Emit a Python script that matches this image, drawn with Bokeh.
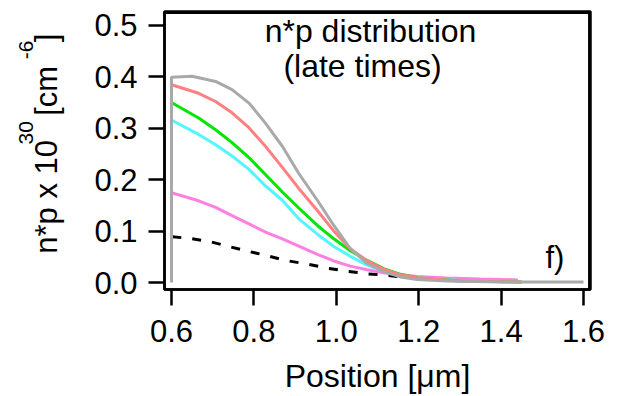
import math
from bokeh.plotting import figure
from bokeh.layouts import row
from bokeh.models import FixedTicker, PrintfTickFormatter, Range1d
from bokeh.core.properties import value
from bokeh.embed import file_html
from bokeh.resources import INLINE

# ---- data ----
gray_x = [0.600, 0.600, 0.650, 0.707, 0.747, 0.788, 0.828, 0.869, 0.909, 0.954, 0.994, 1.034, 1.075, 1.115, 1.156, 1.196, 1.269, 1.400, 1.600]
gray_y = [0.000, 0.399, 0.401, 0.391, 0.375, 0.349, 0.310, 0.265, 0.212, 0.160, 0.111, 0.066, 0.037, 0.021, 0.011, 0.006, 0.003, 0.001, 0.001]

red_x = [0.602, 0.666, 0.707, 0.747, 0.788, 0.828, 0.869, 0.909, 0.954, 0.994, 1.034, 1.075, 1.115, 1.156, 1.200, 1.300, 1.450]
red_y = [0.384, 0.368, 0.352, 0.330, 0.301, 0.265, 0.224, 0.183, 0.140, 0.100, 0.066, 0.042, 0.026, 0.015, 0.009, 0.003, 0.001]

green_x = [0.602, 0.666, 0.707, 0.747, 0.788, 0.828, 0.869, 0.909, 0.954, 0.994, 1.034, 1.075, 1.115, 1.156, 1.200, 1.300, 1.450]
green_y = [0.349, 0.320, 0.297, 0.272, 0.243, 0.210, 0.176, 0.145, 0.111, 0.085, 0.062, 0.043, 0.027, 0.016, 0.009, 0.003, 0.001]

cyan_x = [0.602, 0.666, 0.707, 0.747, 0.788, 0.828, 0.869, 0.909, 0.954, 0.994, 1.034, 1.075, 1.115, 1.156, 1.200, 1.300, 1.450]
cyan_y = [0.315, 0.288, 0.268, 0.246, 0.220, 0.188, 0.160, 0.124, 0.094, 0.070, 0.051, 0.034, 0.022, 0.014, 0.009, 0.004, 0.001]

magenta_x = [0.602, 0.666, 0.707, 0.747, 0.788, 0.828, 0.869, 0.909, 0.954, 0.994, 1.034, 1.075, 1.115, 1.156, 1.196, 1.269, 1.350, 1.440]
magenta_y = [0.174, 0.159, 0.146, 0.130, 0.114, 0.098, 0.085, 0.071, 0.055, 0.042, 0.032, 0.025, 0.019, 0.015, 0.012, 0.009, 0.007, 0.005]

dash_x = [0.602, 0.642, 0.691, 0.735, 0.780, 0.828, 0.877, 0.929, 0.978, 1.026, 1.075, 1.124, 1.172, 1.221, 1.300, 1.440]
dash_y = [0.089, 0.086, 0.080, 0.071, 0.062, 0.053, 0.043, 0.036, 0.028, 0.022, 0.017, 0.014, 0.010, 0.008, 0.006, 0.004]

x_ticks = [0.6, 0.8, 1.0, 1.2, 1.4, 1.6]
y_ticks = [0.0, 0.1, 0.2, 0.3, 0.4, 0.5]

title_lines = ["n*p distribution", "(late times)"]
panel_tag = "f)"
x_label = "Position [\u03bcm]"
y_label_parts = ["n*p x 10", "30", "[cm", "-6", "]"]

FONT = "Liberation Sans"
W, H = 621, 396
LW = 70  # width of the side strip carrying the rotated y label
TOP, BOT = 11, 291  # frame top / bottom in page pixels
PX_X, PX_Y = 412.0, 518.0  # pixels per data unit

# ---- main figure ----
X0, X1 = 0.583, 1.617
Y0, Y1 = -0.0135, 0.527
p = figure(width=W - LW, height=H, output_backend="svg", toolbar_location=None,
           x_range=Range1d(X0, X1), y_range=Range1d(Y0, Y1),
           min_border_left=164 - LW, min_border_right=31, min_border_top=TOP,
           min_border_bottom=H - BOT)
p.title.visible = False
p.background_fill_color = "white"
p.border_fill_color = "white"
p.grid.visible = False
p.outline_line_color = "black"
p.outline_line_width = 2.5

for ax in (p.xaxis[0], p.yaxis[0]):
    ax.axis_line_width = 2.5
    ax.axis_line_color = "black"
    ax.major_tick_line_width = 2.5
    ax.major_tick_line_color = "black"
    ax.major_tick_out = 16
    ax.major_tick_in = 0
    ax.minor_tick_line_color = None
    ax.major_label_text_font = FONT
    ax.major_label_text_font_size = "31px"
    ax.major_label_text_color = "black"
    ax.axis_label_text_font = FONT
    ax.axis_label_text_font_size = "32px"
    ax.axis_label_text_font_style = "normal"
    ax.axis_label_text_color = "black"
    ax.formatter = PrintfTickFormatter(format="%.1f")

p.xaxis.ticker = FixedTicker(ticks=x_ticks)
p.yaxis.ticker = FixedTicker(ticks=y_ticks)
p.xaxis.major_label_standoff = 14
p.yaxis.major_label_standoff = 11
p.xaxis.axis_label = x_label
p.xaxis.axis_label_standoff = 13

# top and right edges of the box, drawn just inside the frame
ex = 1.2 / PX_X
ey = 1.2 / PX_Y
p.line([X0, X1 - ex, X1 - ex], [Y1 - ey, Y1 - ey, Y0], line_color="black", line_width=2.5)

# ---- curves ----
p.line(dash_x, dash_y, line_color="black", line_width=3, line_dash="9 11")
p.line(magenta_x, magenta_y, line_color="#ff80e0", line_width=3)
p.line(cyan_x, cyan_y, line_color="#55f5ff", line_width=3)
p.line(green_x, green_y, line_color="#00e600", line_width=3)
p.line(red_x, red_y, line_color="#ff8080", line_width=3)
p.line(gray_x, gray_y, line_color="#a9a9a9", line_width=3)

# ---- helpers: reference pixel -> data ----
def dx(px):
    return 0.6 + (px - 171.0) / PX_X

def dy(py):
    return (284.0 - py) / PX_Y

SHIFT = 11  # compensation for the renderer's baseline placement (px)
p.text(x=[dx(370), dx(362)], y=[dy(42 - SHIFT), dy(77 - SHIFT)], text=title_lines,
       text_align="center", text_baseline="alphabetic", text_font=value(FONT),
       text_font_size=value("32px"), text_color="black")
p.text(x=[dx(545)], y=[dy(270 - SHIFT)], text=[panel_tag], text_align="left",
       text_baseline="alphabetic", text_font=value(FONT), text_font_size=value("31px"),
       text_color="black")

# ---- side strip with the rotated y-axis label (superscripts smaller, raised) ----
# strip coordinates: x = page px, y = -page py
s = figure(width=LW, height=H, output_backend="svg", toolbar_location=None,
           x_range=Range1d(0, LW), y_range=Range1d(-BOT, -TOP),
           min_border_left=0, min_border_right=0, min_border_top=TOP,
           min_border_bottom=H - BOT)
s.title.visible = False
s.axis.visible = False
s.grid.visible = False
s.outline_line_color = None
s.background_fill_color = "white"
s.border_fill_color = "white"

ang = math.pi / 2
pieces = [
    (y_label_parts[0], 57 - SHIFT, 255, "31px"),
    (y_label_parts[1], 33 - 8, 145, "21px"),
    (y_label_parts[2], 57 - SHIFT, 116, "31px"),
    (y_label_parts[3], 33 - 8, 59, "21px"),
    (y_label_parts[4], 57 - SHIFT, 42, "31px"),
]
for txt, bx_, by_, fs in pieces:
    s.text(x=[bx_], y=[-by_], text=[txt], angle=ang, text_align="left",
           text_baseline="alphabetic", text_font=value(FONT), text_font_size=value(fs),
           text_color="black")

layout = row(s, p, spacing=0)
html = file_html(layout, INLINE)
open("out.html", "w").write(html)
